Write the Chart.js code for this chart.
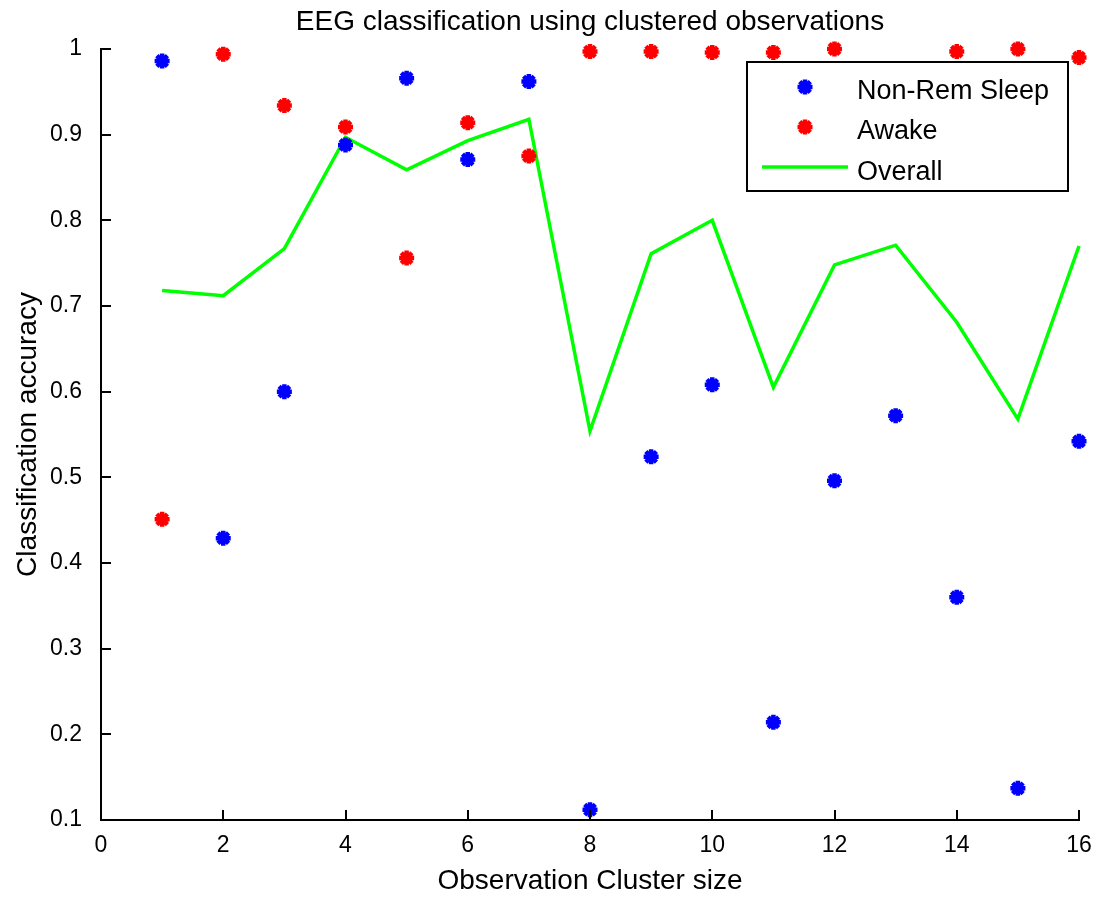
<!DOCTYPE html>
<html>
<head>
<meta charset="utf-8">
<script src="https://cdn.jsdelivr.net/npm/chart.js@4.4.1/dist/chart.umd.min.js"></script>
<style>
  html, body { margin: 0; padding: 0; background: #fff; }
</style>
</head>
<body>
<canvas id="chart" width="1098" height="901"></canvas>
<script>
// data
const clusterSize = [1, 2, 3, 4, 5, 6, 7, 8, 9, 10, 11, 12, 13, 14, 15, 16];
const nonRemSleep = [0.986, 0.429, 0.600, 0.888, 0.966, 0.871, 0.962, 0.112, 0.524, 0.608, 0.214, 0.496, 0.572, 0.360, 0.137, 0.542];
// point at 13 sits behind the legend box, so it is a guess
const awake = [0.451, 0.994, 0.934, 0.909, 0.756, 0.914, 0.875, 0.997, 0.997, 0.996, 0.996, 1.0, 0.96, 0.997, 1.0, 0.990];
const overall = [0.718, 0.712, 0.767, 0.897, 0.859, 0.893, 0.918, 0.554, 0.761, 0.800, 0.605, 0.748, 0.771, 0.681, 0.568, 0.770];

const xTicks = [0, 2, 4, 6, 8, 10, 12, 14, 16];
const yTicks = [0.1, 0.2, 0.3, 0.4, 0.5, 0.6, 0.7, 0.8, 0.9, 1];
const yTickLabels = ['0.1', '0.2', '0.3', '0.4', '0.5', '0.6', '0.7', '0.8', '0.9', '1'];
const chartTitle = 'EEG classification using clustered observations';

const FONT = '"Liberation Sans", Arial, Helvetica, sans-serif';
Chart.defaults.font.family = FONT;
Chart.defaults.color = '#000';

function toPoints(values) {
  return clusterSize.map((x, i) => ({ x: x, y: values[i] }));
}

// title centred over the axes, not over the whole canvas
const axesTitle = {
  id: 'axesTitle',
  afterDraw(chart) {
    const { ctx, chartArea } = chart;
    ctx.save();
    ctx.font = '28px ' + FONT;
    ctx.fillStyle = '#000';
    ctx.textAlign = 'center';
    ctx.textBaseline = 'middle';
    ctx.fillText(chartTitle, (chartArea.left + chartArea.right) / 2, 22);
    ctx.restore();
  }
};

// matlab style ticks pointing into the plot
const inwardTicks = {
  id: 'inwardTicks',
  afterDatasetsDraw(chart) {
    const { ctx, chartArea, scales } = chart;
    ctx.save();
    ctx.strokeStyle = '#000';
    ctx.lineWidth = 2;
    ctx.beginPath();
    scales.x.ticks.forEach(t => {
      const px = Math.round(scales.x.getPixelForValue(t.value));
      ctx.moveTo(px, chartArea.bottom);
      ctx.lineTo(px, chartArea.bottom - 10);
    });
    scales.y.ticks.forEach(t => {
      const py = Math.round(scales.y.getPixelForValue(t.value));
      ctx.moveTo(chartArea.left, py);
      ctx.lineTo(chartArea.left + 10, py);
    });
    ctx.stroke();
    ctx.restore();
  }
};

// boxed legend in the top right corner of the axes
const boxLegend = {
  id: 'boxLegend',
  afterDatasetsDraw(chart) {
    const { ctx, chartArea } = chart;
    const w = 321, h = 129;
    const right = chartArea.right - 11;
    const top = chartArea.top + 13;
    const left = right - w;
    const rowY = [30, 70, 111];

    ctx.save();
    ctx.fillStyle = '#fff';
    ctx.fillRect(left, top, w, h);
    ctx.strokeStyle = '#000';
    ctx.lineWidth = 2;
    ctx.strokeRect(left, top, w, h);

    ctx.font = '27px ' + FONT;
    ctx.textBaseline = 'middle';
    ctx.textAlign = 'left';
    chart.data.datasets.forEach((ds, i) => {
      const y = top + rowY[i];
      if (ds.showLine) {
        ctx.strokeStyle = ds.borderColor;
        ctx.lineWidth = ds.borderWidth;
        ctx.beginPath();
        ctx.moveTo(left + 15, y - 6);
        ctx.lineTo(left + 101, y - 6);
        ctx.stroke();
      } else {
        ctx.strokeStyle = ds.borderColor;
        ctx.fillStyle = ds.backgroundColor;
        ctx.lineWidth = ds.pointBorderWidth;
        Chart.helpers.drawPoint(ctx, { pointStyle: 'star', radius: ds.pointRadius, rotation: 0, borderWidth: ds.pointBorderWidth }, left + 58, y - 5);
      }
      ctx.fillStyle = '#000';
      ctx.fillText(ds.label, left + 110, y);
    });
    ctx.restore();
  }
};

const ctx = document.getElementById('chart').getContext('2d');

new Chart(ctx, {
  type: 'scatter',
  data: {
    datasets: [
      {
        label: 'Non-Rem Sleep',
        data: toPoints(nonRemSleep),
        showLine: false,
        pointStyle: 'star',
        pointRadius: 7.5,
        pointBorderWidth: 4.5,
        borderColor: '#0000ff',
        backgroundColor: '#0000ff',
        clip: false
      },
      {
        label: 'Awake',
        data: toPoints(awake),
        showLine: false,
        pointStyle: 'star',
        pointRadius: 7.5,
        pointBorderWidth: 4.5,
        borderColor: '#ff0000',
        backgroundColor: '#ff0000',
        clip: false
      },
      {
        label: 'Overall',
        data: toPoints(overall),
        showLine: true,
        borderColor: '#00ff00',
        backgroundColor: '#00ff00',
        borderWidth: 3.5,
        pointRadius: 0,
        tension: 0,
        clip: false
      }
    ]
  },
  options: {
    responsive: false,
    animation: false,
    devicePixelRatio: 1,
    layout: { padding: { left: 0, right: 19, top: 49, bottom: 0 } },
    plugins: {
      legend: { display: false },
      tooltip: { enabled: false },
      title: { display: false }
    },
    scales: {
      x: {
        type: 'linear',
        min: 0,
        max: 16,
        afterBuildTicks: s => { s.ticks = xTicks.map(v => ({ value: v })); },
        afterFit: s => { s.height = 81; s.paddingLeft = 0; s.paddingRight = 0; },
        grid: { display: false },
        border: { display: true, color: '#000', width: 2 },
        ticks: {
          padding: 4,
          font: { size: 23 },
          color: '#000',
          callback: v => String(v)
        },
        title: {
          display: true,
          text: 'Observation Cluster size',
          font: { size: 28 },
          color: '#000',
          padding: { top: 0, bottom: 3 }
        }
      },
      y: {
        type: 'linear',
        min: 0.1,
        max: 1,
        afterBuildTicks: s => { s.ticks = yTicks.map(v => ({ value: v })); },
        afterFit: s => { s.width = 101; s.paddingTop = 0; s.paddingBottom = 0; },
        grid: { display: false },
        border: { display: true, color: '#000', width: 2 },
        ticks: {
          padding: 11,
          font: { size: 23 },
          color: '#000',
          callback: (v, i) => yTickLabels[i]
        },
        title: {
          display: true,
          text: 'Classification accuracy',
          font: { size: 28 },
          color: '#000',
          padding: { top: 11, bottom: 0 }
        }
      }
    }
  },
  plugins: [inwardTicks, boxLegend, axesTitle]
});
</script>
</body>
</html>
